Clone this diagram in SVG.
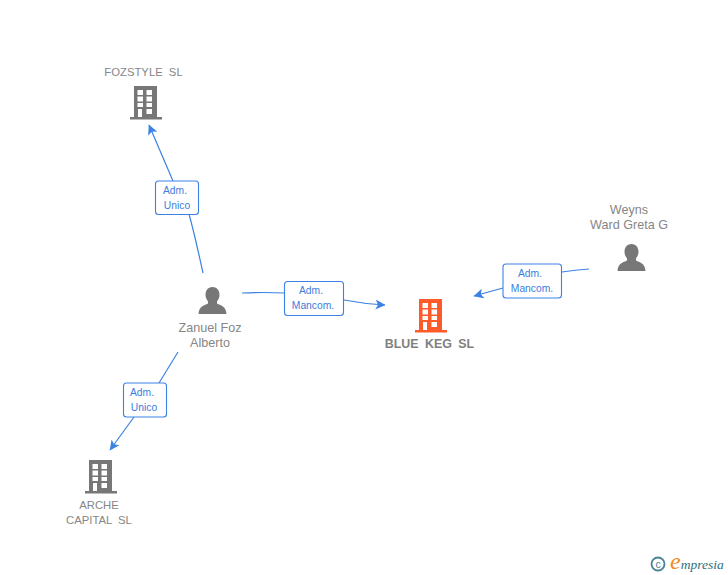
<svg xmlns="http://www.w3.org/2000/svg" width="728" height="575" viewBox="0 0 728 575">
<style>
text{font-family:"Liberation Sans",Arial,sans-serif}
.n{font-size:12.6px;fill:#868686;text-anchor:middle}
.s{font-size:11.3px;word-spacing:3px}
.nb{font-size:12.4px;fill:#808080;text-anchor:middle;font-weight:bold;word-spacing:3px}
.e{font-size:10.3px;fill:#3b7de0;text-anchor:middle}
.c{fill:none;stroke:#3b82e4;stroke-width:1.2}
.box{fill:#fff;stroke:#3b82e4;stroke-width:1.1}
.g{fill:#777}
.o{fill:#ff5a2a}
.w{fill:#fff}
</style>
<defs>
<marker id="a" markerWidth="11" markerHeight="10" refX="9.5" refY="5" orient="auto" markerUnits="userSpaceOnUse"><path d="M0 0L10 5L0 10L2.5 5Z" fill="#3b82e4"/></marker>
<g id="bld"><path d="M-12 -17H11V14H16V16.500H-16V14H-12Z"/><g class="w"><rect x="-8.500" y="-13" width="5.500" height="5"/><rect x="0.500" y="-13" width="5.500" height="5"/><rect x="-8.500" y="-6.500" width="5.500" height="5"/><rect x="0.500" y="-6.500" width="5.500" height="5"/><rect x="-8.500" y="0" width="5.500" height="4"/><rect x="0.500" y="0" width="5.500" height="4"/><rect x="-8" y="6" width="4" height="8"/><rect x="0.500" y="6" width="5.500" height="5"/></g></g>
<path id="per" d="M0 -14C5 -14 7 -10 7 -6C7 -3 5.500 -1 4.500 0.500V2.500C8 4.500 13.500 4.800 14 13H-14C-13.500 4.800 -8 4.500 -4.500 2.500V0.500C-5.500 -1 -7 -3 -7 -6C-7 -10 -5 -14 0 -14Z"/>
</defs>
<rect width="728" height="575" fill="#fff"/>
<g id="connectors">
<path class="c" d="M203 273C198 250 194 232 189 214" />
<path class="c" d="M173 181L149 125" marker-end="url(#a)"/>
<path class="c" d="M178 352L159 383"/>
<path class="c" d="M134 417L110 450" marker-end="url(#a)"/>
<path class="c" d="M242 293Q263 292 285 293"/>
<path class="c" d="M344 300Q365 304 385 305" marker-end="url(#a)"/>
<path class="c" d="M589 269Q575 270 562 272"/>
<path class="c" d="M503 288L474 296" marker-end="url(#a)"/>
</g>
<g id="edge-label-1"><rect class="box" x="155.500" y="181" width="43" height="33.500" rx="3"/><text class="e" x="175" y="194">Adm.</text><text class="e" x="177" y="209">Unico</text></g>
<g id="edge-label-2"><rect class="box" x="123.500" y="383" width="43" height="34" rx="3"/><text class="e" x="142" y="396">Adm.</text><text class="e" x="144" y="411">Unico</text></g>
<g id="edge-label-3"><rect class="box" x="284.500" y="281.500" width="59" height="34" rx="3"/><text class="e" x="311" y="294">Adm.</text><text class="e" x="313" y="309">Mancom.</text></g>
<g id="edge-label-4"><rect class="box" x="503" y="264" width="58.500" height="34" rx="3"/><text class="e" x="530" y="277">Adm.</text><text class="e" x="532" y="292">Mancom.</text></g>
<g id="node-fozstyle"><text class="n s" x="143.500" y="76">FOZSTYLE SL</text><use href="#bld" class="g" x="146" y="103"/></g>
<g id="node-arche"><use href="#bld" class="g" x="101" y="477"/><text class="n s" x="99" y="509">ARCHE</text><text class="n s" x="99" y="524">CAPITAL SL</text></g>
<g id="node-zanuel"><use href="#per" class="g" x="212.500" y="301"/><text class="n" x="210" y="332">Zanuel Foz</text><text class="n" x="210" y="347">Alberto</text></g>
<g id="node-weyns"><text class="n" x="629" y="214">Weyns</text><text class="n" x="629" y="229">Ward Greta G</text><use href="#per" class="g" x="631.500" y="258"/></g>
<g id="node-blue-keg"><use href="#bld" class="o" x="431" y="316"/><text class="nb" x="429.500" y="348">BLUE KEG SL</text></g>
<g id="brand"><circle cx="658" cy="564" r="6.500" fill="none" stroke="#4a8296" stroke-width="1.800"/><text x="658" y="567.500" style="font-size:10.500px;fill:#4a8296;text-anchor:middle">c</text><text x="670" y="569" style="font-family:'Liberation Serif',serif;font-size:13.500px;font-style:italic;fill:#2e6f80"><tspan style="font-size:24px;fill:#f08a1c">e</tspan>mpresia</text></g>
</svg>
